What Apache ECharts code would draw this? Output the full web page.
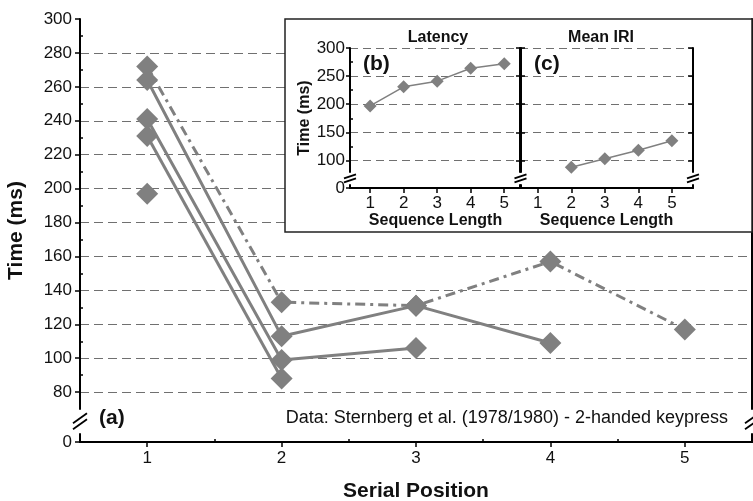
<!DOCTYPE html>
<html>
<head>
<meta charset="utf-8">
<title>Serial Position</title>
<script src="https://cdn.jsdelivr.net/npm/echarts@6.0.0/dist/echarts.min.js"></script>
<style>
    html, body { margin: 0; padding: 0; background: #fff; }
    #chart { width: 753px; height: 501px; }
</style>
</head>
<body>
<div id="chart"></div>
<script>
// (a) time at each serial position, one line per sequence length
const serialPositions = [1, 2, 3, 4, 5];
const len1 = [197];
const len2 = [231, 88];
const len3 = [241, 99, 106];
const len4 = [264, 113, 131, 109];
const len5 = [272, 133, 131, 157, 117];

// (b) latency and (c) mean IRI by sequence length
const seqLengths = [1, 2, 3, 4, 5];
const latency = [197, 231, 241, 264, 272];
const meanIRI = [null, 88, 103, 118, 135];

const mainYTicks = [0, 80, 100, 120, 140, 160, 180, 200, 220, 240, 260, 280, 300];
const mainYMinor = [90, 110, 130, 150, 170, 190, 210, 230, 250, 270, 290];
const mainXTicks = [1, 2, 3, 4, 5];
const mainXMinor = [1.5, 2.5, 3.5, 4.5];
const insetYTicks = [0, 100, 150, 200, 250, 300];
const insetYMinor = [125, 175, 225, 275];

const FONT = '"Liberation Sans", Arial, sans-serif';
const GREY = '#808080';
const INK = '#111';
const mainBreak = [{ start: 5, end: 70, gap: 14.4 }];
const insetBreak = [{ start: 5, end: 80, gap: 24 }];

const chart = echarts.init(document.getElementById('chart'));

function pts(xs, ys) {
    return ys.map((v, i) => [xs[i], v]);
}

function mainLine(name, data, dashed) {
    return {
        name: name, type: 'line', xAxisIndex: 0, yAxisIndex: 0,
        data: pts(serialPositions, data),
        symbol: 'diamond', symbolSize: 22,
        itemStyle: { color: GREY },
        lineStyle: { color: GREY, width: 3, type: dashed ? [10, 5, 3, 5] : 'solid' },
        animation: false, z: 2
    };
}

function insetLine(data, xi, yi) {
    return {
        type: 'line', xAxisIndex: xi, yAxisIndex: yi,
        data: pts(seqLengths, data),
        symbol: 'diamond', symbolSize: 13,
        itemStyle: { color: GREY },
        lineStyle: { color: GREY, width: 1.5 },
        animation: false, z: 30
    };
}

function ticks(values, inside, len) {
    return { customValues: values, inside: inside, length: len, lineStyle: { color: '#000', width: 1.5 } };
}

const axisLine = { show: true, lineStyle: { color: '#000', width: 2 } };
const thinLine = { show: true, lineStyle: { color: '#000', width: 2 } };
const noTick = { show: false };
const noLabel = { show: false };
const noSplit = { show: false };
const mainGridLines = { show: true, showMinLine: false, showMaxLine: false, lineStyle: { color: '#707070', width: 1.2, type: [9, 5] } };
const insetGridLines = { show: true, showMinLine: false, lineStyle: { color: '#707070', width: 1.2, type: [8, 5] } };
const labelFont = { fontSize: 17, color: INK, fontFamily: FONT };

const option = {
    animation: false,
    grid: [
        { left: 80, top: 19, width: 672, height: 423, outerBoundsMode: 'none' },
        { left: 350, top: 48, width: 171, height: 140, z: 20, outerBoundsMode: 'none' },
        { left: 520, top: 48, width: 173, height: 140, z: 20, outerBoundsMode: 'none' }
    ],
    xAxis: [
        {
            gridIndex: 0, type: 'value', position: 'bottom', min: 0.5, max: 5.5,
            axisLine: axisLine,
            axisTick: ticks(mainXTicks, false, 5),
            axisLabel: Object.assign({ customValues: mainXTicks, margin: 8 }, labelFont),
            splitLine: noSplit,
            name: 'Serial Position', nameLocation: 'middle', nameGap: 39,
            nameTextStyle: { fontSize: 21, fontWeight: 'bold', color: INK, fontFamily: FONT }
        },
        {
            gridIndex: 0, type: 'value', position: 'bottom', min: 0.5, max: 5.5,
            axisLine: { show: false },
            axisTick: ticks(mainXMinor, true, 3),
            axisLabel: noLabel, splitLine: noSplit
        },
        {
            gridIndex: 0, type: 'value', position: 'top', min: 0.5, max: 5.5,
            axisLine: axisLine,
            axisTick: ticks(mainXTicks, true, 4),
            axisLabel: noLabel, splitLine: noSplit
        },
        {
            gridIndex: 1, type: 'value', position: 'bottom', min: 0.4, max: 5.5, z: 20,
            axisLine: thinLine,
            axisTick: ticks(seqLengths, false, 5),
            axisLabel: Object.assign({ customValues: seqLengths, margin: 7 }, labelFont),
            splitLine: noSplit,
            name: 'Sequence Length', nameLocation: 'middle', nameGap: 25,
            nameTextStyle: { fontSize: 16, fontWeight: 'bold', color: INK, fontFamily: FONT }
        },
        {
            gridIndex: 2, type: 'value', position: 'bottom', min: 0.47, max: 5.63, z: 20,
            axisLine: thinLine,
            axisTick: ticks(seqLengths, false, 5),
            axisLabel: Object.assign({ customValues: seqLengths, margin: 7 }, labelFont),
            splitLine: noSplit,
            name: 'Sequence Length', nameLocation: 'middle', nameGap: 25,
            nameTextStyle: { fontSize: 16, fontWeight: 'bold', color: INK, fontFamily: FONT }
        }
    ],
    yAxis: [
        {
            gridIndex: 0, type: 'value', position: 'left', min: 0, max: 300,
            breaks: mainBreak, breakArea: { show: false },
            axisLine: axisLine,
            axisTick: ticks(mainYTicks, false, 5),
            axisLabel: Object.assign({ customValues: mainYTicks, margin: 8 }, labelFont),
            splitLine: mainGridLines,
            name: 'Time (ms)', nameLocation: 'middle', nameGap: 53, nameRotate: 90,
            nameTextStyle: { fontSize: 21, fontWeight: 'bold', color: INK, fontFamily: FONT }
        },
        {
            gridIndex: 0, type: 'value', position: 'right', min: 0, max: 300,
            breaks: mainBreak, breakArea: { show: false },
            axisLine: axisLine, axisTick: noTick, axisLabel: noLabel, splitLine: noSplit
        },
        {
            gridIndex: 0, type: 'value', position: 'left', min: 0, max: 300,
            breaks: mainBreak, breakArea: { show: false },
            axisLine: { show: false },
            axisTick: ticks(mainYMinor, true, 3),
            axisLabel: noLabel, splitLine: noSplit
        },
        {
            gridIndex: 1, type: 'value', position: 'left', min: 0, max: 300, z: 20,
            breaks: insetBreak, breakArea: { show: false },
            axisLine: thinLine,
            axisTick: ticks(insetYTicks, false, 4),
            axisLabel: Object.assign({ customValues: insetYTicks, margin: 5 }, labelFont),
            splitLine: insetGridLines,
            name: 'Time (ms)', nameLocation: 'middle', nameGap: 37, nameRotate: 90,
            nameTextStyle: { fontSize: 16, fontWeight: 'bold', color: INK, fontFamily: FONT }
        },
        {
            gridIndex: 1, type: 'value', position: 'left', min: 0, max: 300, z: 20,
            breaks: insetBreak, breakArea: { show: false },
            axisLine: { show: false },
            axisTick: ticks(insetYMinor, true, 3),
            axisLabel: noLabel, splitLine: noSplit
        },
        {
            gridIndex: 1, type: 'value', position: 'right', min: 0, max: 300, z: 20,
            breaks: insetBreak, breakArea: { show: false },
            axisLine: thinLine,
            axisTick: ticks(insetYTicks, true, 5),
            axisLabel: noLabel, splitLine: noSplit
        },
        {
            gridIndex: 2, type: 'value', position: 'left', min: 0, max: 300, z: 20,
            breaks: insetBreak, breakArea: { show: false },
            axisLine: thinLine,
            axisTick: ticks(insetYTicks, true, 5),
            axisLabel: noLabel,
            splitLine: insetGridLines
        },
        {
            gridIndex: 2, type: 'value', position: 'right', min: 0, max: 300, z: 20,
            breaks: insetBreak, breakArea: { show: false },
            axisLine: thinLine,
            axisTick: ticks(insetYTicks, true, 5),
            axisLabel: noLabel, splitLine: noSplit
        }
    ],
    series: [
        mainLine('1', len1, false),
        mainLine('2', len2, false),
        mainLine('3', len3, false),
        mainLine('4', len4, false),
        mainLine('5', len5, true),
        insetLine(latency, 3, 3),
        insetLine(meanIRI, 4, 6)
    ]
};

chart.setOption(option);

// double-slash marks where the y axes are broken
function breakMark(x, y, half, slope, sep, z) {
    const parts = [{
        type: 'rect', z: z, silent: true,
        shape: { x: x - 3, y: y - sep / 2, width: 6, height: sep },
        style: { fill: '#fff' }
    }];
    [-sep / 2, sep / 2].forEach(function (d) {
        parts.push({
            type: 'line', z: z + 1, silent: true,
            shape: { x1: x - half, y1: y + d + slope, x2: x + half, y2: y + d - slope },
            style: { stroke: '#000', lineWidth: 1.8 }
        });
    });
    return parts;
}

const mainBreakY = (chart.convertToPixel({ yAxisIndex: 0 }, mainBreak[0].start) +
    chart.convertToPixel({ yAxisIndex: 0 }, mainBreak[0].end)) / 2;
const insetBreakY = (chart.convertToPixel({ yAxisIndex: 3 }, insetBreak[0].start) +
    chart.convertToPixel({ yAxisIndex: 3 }, insetBreak[0].end)) / 2;

function txt(size, bold, extra) {
    return Object.assign({ fontSize: size, fontWeight: bold ? 'bold' : 'normal', fontFamily: FONT, fill: INK, textVerticalAlign: 'middle' }, extra);
}

let graphics = [
    {
        type: 'rect', z: 10, silent: true,
        shape: { x: 285, y: 19, width: 467, height: 213 },
        style: { fill: '#fff', stroke: '#222', lineWidth: 1.5 }
    },
    { type: 'text', z: 40, x: 99, y: 418, style: txt(21, true, { text: '(a)' }) },
    { type: 'text', z: 40, x: 728, y: 418, style: txt(18, false, { text: 'Data: Sternberg et al. (1978/1980) - 2-handed keypress', textAlign: 'right' }) },
    { type: 'text', z: 40, x: 363, y: 64, style: txt(21, true, { text: '(b)' }) },
    { type: 'text', z: 40, x: 534, y: 64, style: txt(21, true, { text: '(c)' }) },
    { type: 'text', z: 40, x: 438, y: 38, style: txt(16, true, { text: 'Latency', textAlign: 'center' }) },
    { type: 'text', z: 40, x: 601, y: 38, style: txt(16, true, { text: 'Mean IRI', textAlign: 'center' }) }
];
graphics = graphics
    .concat(breakMark(80, mainBreakY, 7, 5, 6, 40))
    .concat(breakMark(752, mainBreakY, 7, 5, 6, 40))
    .concat(breakMark(350, insetBreakY, 6, 2, 4, 40))
    .concat(breakMark(520.5, insetBreakY, 6, 2, 4, 40))
    .concat(breakMark(693, insetBreakY, 6, 2, 4, 40));

chart.setOption({ graphic: graphics });
</script>
</body>
</html>
